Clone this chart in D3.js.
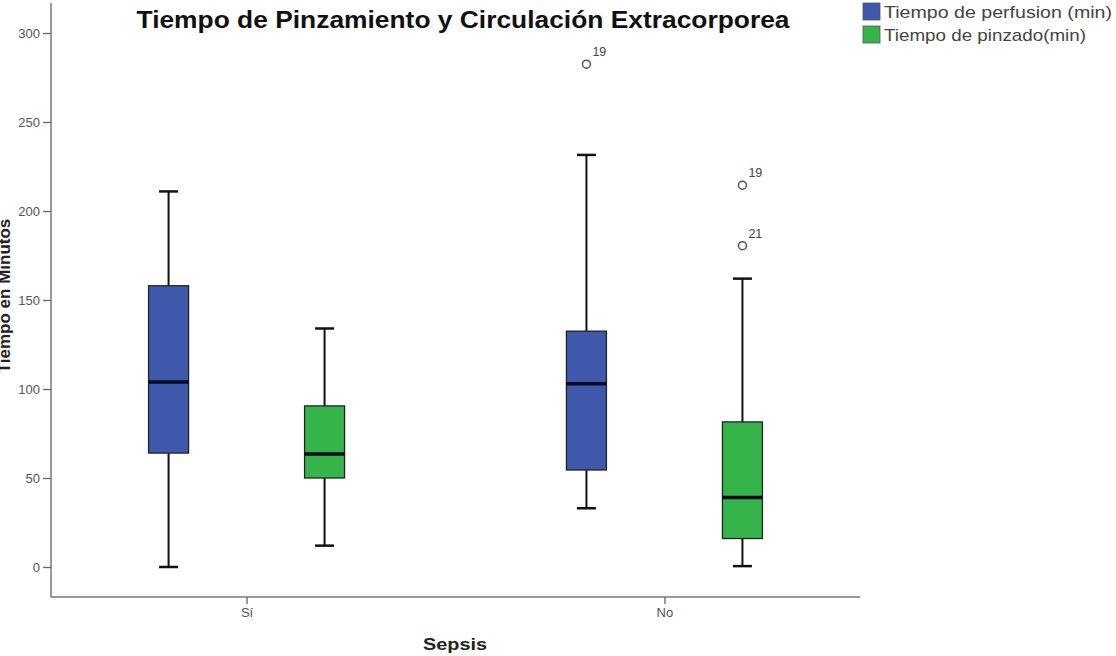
<!DOCTYPE html>
<html>
<head>
<meta charset="utf-8">
<script src="https://cdn.jsdelivr.net/npm/d3@7"></script>
<style>
  body { margin: 0; background: #fff; }
  text { font-family: "Liberation Sans", Arial, sans-serif; }
</style>
</head>
<body>
<svg width="1116" height="656"></svg>
<script>
// categories and series
groups = ['Sí', 'No']
series = ['Tiempo de perfusion (min)', 'Tiempo de pinzado(min)']
colors = ['#3E58AC', '#35B44A']

// box stats per series, one value per group [Sí, No]
perfMin = [0, 33],    perfQ1 = [64, 54.5],  perfMed = [104, 103],  perfQ3 = [158, 132.5], perfMax = [211, 231.5]
pinzMin = [12, 0.5],  pinzQ1 = [50, 16],    pinzMed = [63.5, 39],  pinzQ3 = [90.5, 81.5], pinzMax = [134, 162]

// outliers: [group, series, value, case label]
outliers = [
    ['No', 0, 282.5, '19'],
    ['No', 1, 214.5, '19'],
    ['No', 1, 180.5, '21']
]

yTicks = [0, 50, 100, 150, 200, 250, 300]

boxes = []
groups.forEach((g, i) => {
    boxes.push({group: g, s: 0, min: perfMin[i], q1: perfQ1[i], med: perfMed[i], q3: perfQ3[i], max: perfMax[i]})
    boxes.push({group: g, s: 1, min: pinzMin[i], q1: pinzQ1[i], med: pinzMed[i], q3: pinzQ3[i], max: pinzMax[i]})
})

let svg = d3.select('svg')

let x = d3.scalePoint().domain(groups).range([51, 860]).padding(0.468)
let xs = d3.scalePoint().domain([0, 1]).range([-78, 78])
let y = d3.scaleLinear().domain([0, 300]).range([567, 33])

let boxW = 40, capW = 19

// axes
svg.append('line').attr('x1', 51).attr('x2', 51).attr('y1', 3).attr('y2', 597)
    .attr('stroke', '#777').attr('stroke-width', 1.5)
svg.append('line').attr('x1', 51).attr('x2', 860).attr('y1', 597).attr('y2', 597)
    .attr('stroke', '#777').attr('stroke-width', 1.5)

let yAxis = svg.append('g').attr('transform', 'translate(51,0)')
    .call(d3.axisLeft(y).tickValues(yTicks).tickSize(8).tickPadding(3))
yAxis.select('.domain').remove()
yAxis.selectAll('line').attr('stroke', '#666').attr('stroke-width', 1.3)
yAxis.selectAll('text').attr('font-size', 13).attr('fill', '#555')
    .style('font-family', '"Liberation Sans", Arial, sans-serif')

let xAxis = svg.append('g').attr('transform', 'translate(0,597)')
    .call(d3.axisBottom(x).tickSize(7).tickPadding(4))
xAxis.select('.domain').remove()
xAxis.selectAll('line').attr('stroke', '#666').attr('stroke-width', 1.3)
xAxis.selectAll('text').attr('font-size', 13).attr('fill', '#555')
    .style('font-family', '"Liberation Sans", Arial, sans-serif')

// boxes
let bx = d => x(d.group) + xs(d.s)
let g = svg.selectAll('.box').data(boxes).enter().append('g').attr('class', 'box')

g.append('line').attr('x1', bx).attr('x2', bx)
    .attr('y1', d => y(d.max)).attr('y2', d => y(d.q3))
    .attr('stroke', '#111').attr('stroke-width', 2)
g.append('line').attr('x1', bx).attr('x2', bx)
    .attr('y1', d => y(d.q1)).attr('y2', d => y(d.min))
    .attr('stroke', '#111').attr('stroke-width', 2)
g.append('line').attr('x1', d => bx(d) - capW / 2).attr('x2', d => bx(d) + capW / 2)
    .attr('y1', d => y(d.max)).attr('y2', d => y(d.max))
    .attr('stroke', '#111').attr('stroke-width', 2.5)
g.append('line').attr('x1', d => bx(d) - capW / 2).attr('x2', d => bx(d) + capW / 2)
    .attr('y1', d => y(d.min)).attr('y2', d => y(d.min))
    .attr('stroke', '#111').attr('stroke-width', 2.5)
g.append('rect')
    .attr('x', d => bx(d) - boxW / 2).attr('width', boxW)
    .attr('y', d => y(d.q3)).attr('height', d => y(d.q1) - y(d.q3))
    .attr('fill', d => colors[d.s]).attr('stroke', '#222').attr('stroke-width', 1.3)
g.append('line').attr('x1', d => bx(d) - boxW / 2).attr('x2', d => bx(d) + boxW / 2)
    .attr('y1', d => y(d.med)).attr('y2', d => y(d.med))
    .attr('stroke', '#050a1e').attr('stroke-width', 3.5)

// outliers
let o = svg.selectAll('.outlier').data(outliers).enter().append('g')
o.append('circle')
    .attr('cx', d => x(d[0]) + xs(d[1])).attr('cy', d => y(d[2])).attr('r', 4)
    .attr('fill', 'none').attr('stroke', '#555').attr('stroke-width', 1.5)
o.append('text')
    .attr('x', d => x(d[0]) + xs(d[1]) + 6).attr('y', d => y(d[2]) - 8)
    .attr('font-size', 12.5).attr('fill', '#444')
    .text(d => d[3])

// title and labels
svg.append('text').attr('x', 463).attr('y', 28).attr('text-anchor', 'middle')
    .attr('font-size', 24).attr('font-weight', 'bold').attr('fill', '#111')
    .attr('textLength', 653).attr('lengthAdjust', 'spacingAndGlyphs')
    .text('Tiempo de Pinzamiento y Circulación Extracorporea')

svg.append('text').attr('x', 455).attr('y', 650).attr('text-anchor', 'middle')
    .attr('font-size', 17).attr('font-weight', 'bold').attr('fill', '#222')
    .attr('textLength', 64).attr('lengthAdjust', 'spacingAndGlyphs')
    .text('Sepsis')

svg.append('text').attr('transform', 'translate(10,296) rotate(-90)').attr('text-anchor', 'middle')
    .attr('font-size', 17).attr('font-weight', 'bold').attr('fill', '#222')
    .text('Tiempo en Minutos')

// legend
let lg = svg.selectAll('.leg').data(series).enter().append('g')
    .attr('transform', (d, i) => `translate(863,${3 + i * 23})`)
lg.append('rect').attr('width', 17).attr('height', 17)
    .attr('fill', (d, i) => colors[i]).attr('stroke', '#555').attr('stroke-width', 0.8)
lg.append('text').attr('x', 21).attr('y', 15)
    .attr('font-size', 17).attr('fill', '#444')
    .attr('textLength', (d, i) => i ? 202 : 228).attr('lengthAdjust', 'spacingAndGlyphs')
    .text(d => d)
</script>
</body>
</html>
